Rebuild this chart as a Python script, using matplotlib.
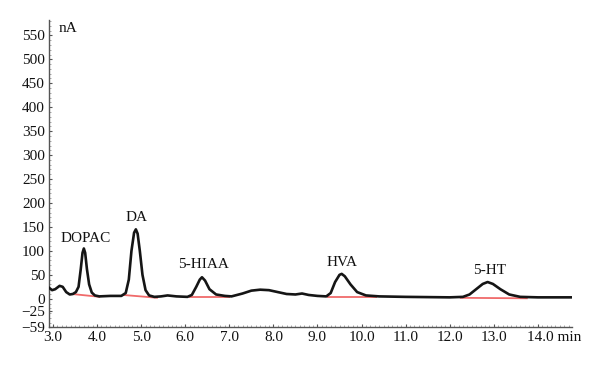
import matplotlib
matplotlib.use("Agg")
import matplotlib.pyplot as plt
import matplotlib.transforms as mtransforms
from matplotlib.ticker import MultipleLocator, FixedLocator

# Chromatogram trace (time in min, current in nA)
time = [2.91, 2.98, 3.05, 3.15, 3.22, 3.30, 3.38, 3.45, 3.52, 3.58, 3.63, 3.67, 3.70, 3.73,
        3.77, 3.82, 3.88, 3.95, 4.05, 4.30, 4.55, 4.65, 4.72, 4.78, 4.84, 4.88, 4.92, 4.97,
        5.03, 5.10, 5.18, 5.30, 5.45, 5.60, 5.80, 6.05, 6.15, 6.25, 6.33, 6.38, 6.45, 6.55,
        6.70, 6.90, 7.05, 7.30, 7.50, 7.70, 7.90, 8.10, 8.30, 8.50, 8.65, 8.80, 9.00, 9.20,
        9.30, 9.40, 9.50, 9.55, 9.62, 9.75, 9.90, 10.10, 10.40, 11.00, 12.00, 12.30, 12.45,
        12.60, 12.75, 12.86, 12.98, 13.15, 13.35, 13.60, 14.00, 14.77]
current = [23, 18, 20, 27, 25, 14, 9, 10, 14, 25, 62, 96, 105, 96,
           62, 30, 13, 7, 5, 6, 6, 12, 40, 100, 138, 145, 136, 100,
           50, 18, 7, 4, 5, 7, 5, 4, 8, 25, 40, 45, 38, 20,
           9, 6, 5, 11, 17, 19, 18, 14, 10, 9, 11, 8, 6, 5,
           12, 35, 50, 52, 47, 30, 14, 7, 5, 4, 3, 4, 9,
           20, 31, 35, 31, 20, 9, 4, 3, 3]

# Integration baselines (start t, start v, end t, end v)
base_t0 = [3.43, 4.59, 6.08, 9.21, 12.23]
base_v0 = [10, 8, 4, 4, 2]
base_t1 = [4.07, 5.38, 7.01, 10.35, 13.77]
base_v1 = [4, 2, 4, 4, 1]

# Peak labels
peak_names = ["DOPAC", "DA", "5-HIAA", "HVA", "5-HT"]
peak_t = [3.75, 4.90, 6.42, 9.55, 12.91]
peak_v = [126, 169, 72, 76, 59]

yticks = [550, 500, 450, 400, 350, 300, 250, 200, 150, 100, 50, 0, -25, -59]
xticks = [3.0, 4.0, 5.0, 6.0, 7.0, 8.0, 9.0, 10.0, 11.0, 12.0, 13.0, 14.0]
xticklabels = ["3.0", "4.0", "5.0", "6.0", "7.0", "8.0", "9.0", "10.0", "11.0", "12.0", "13.0", "14.0 min"]

plt.rcParams['font.family'] = ['Liberation Serif', 'DejaVu Serif']

fig = plt.figure(figsize=(6, 3.65), dpi=100)
ax = fig.add_axes([0.0817, 0.104, 0.8713, 0.841])

for a, b, c, d in zip(base_t0, base_v0, base_t1, base_v1):
    ax.plot([a, c], [b, d], color="#f06a6a", lw=1.3, solid_capstyle="butt", zorder=2)

ax.plot(time, current, color="#151515", lw=1.9, zorder=3, solid_joinstyle="round")

for n, t, v in zip(peak_names, peak_t, peak_v):
    ax.text(t, v, n, ha="center", va="center", fontsize=11, color="#111111")

ax.text(3.12, 565, "nA", ha="left", va="center", fontsize=11, color="#111111")

ax.set_xlim(2.91, 14.77)
ax.set_ylim(-59, 582)
ax.yaxis.set_major_locator(FixedLocator(yticks))
ax.set_yticklabels([str(v).replace("-", "\u2212") for v in yticks])
ax.xaxis.set_major_locator(FixedLocator(xticks))
ax.set_xticklabels(xticklabels)
ax.xaxis.set_minor_locator(MultipleLocator(0.1))
ax.yaxis.set_minor_locator(MultipleLocator(10))

for s in ["top", "right"]:
    ax.spines[s].set_visible(False)
for s in ["left", "bottom"]:
    ax.spines[s].set_color("#555555")
    ax.spines[s].set_linewidth(1.0)

ax.tick_params(axis="both", which="major", direction="in", length=2.5, width=0.8,
               color="#555555", labelsize=11, labelcolor="#111111", pad=3)
ax.tick_params(axis="both", which="minor", direction="in", length=1.5, width=0.5, color="#888888")

# keep "14.0" centred on its tick, with "min" trailing to the right
last = ax.get_xticklabels()[-1]
last.set_ha("left")
last.set_transform(last.get_transform() + mtransforms.ScaledTranslation(-11 / 100, 0, fig.dpi_scale_trans))

fig.savefig("out.png", dpi=100)
